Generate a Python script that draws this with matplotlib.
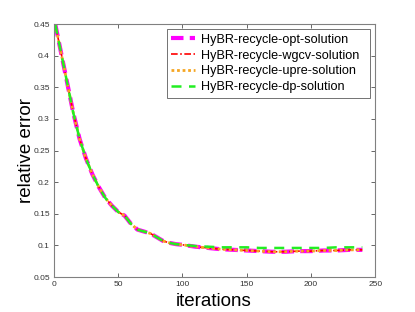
import matplotlib
matplotlib.use("Agg")
import matplotlib.pyplot as plt

plt.rcParams['font.family'] = ['Liberation Sans', 'DejaVu Sans']

iters = [1, 5, 10, 15, 20, 25, 30, 35, 40, 45, 50, 55, 60, 65, 70, 75, 80, 85, 90, 95,
         100, 110, 120, 130, 140, 150, 160, 170, 180, 190, 200, 210, 220, 230, 240]
opt = [0.45, 0.41, 0.36, 0.31, 0.268, 0.237, 0.212, 0.192, 0.175, 0.163, 0.153, 0.147,
       0.134, 0.125, 0.122, 0.119, 0.113, 0.107, 0.104, 0.102, 0.101, 0.098, 0.096,
       0.094, 0.093, 0.092, 0.091, 0.090, 0.090, 0.091, 0.091, 0.092, 0.092, 0.093, 0.093]
wgcv = [0.45, 0.41, 0.36, 0.31, 0.268, 0.237, 0.212, 0.192, 0.175, 0.163, 0.153, 0.147,
        0.134, 0.125, 0.122, 0.119, 0.113, 0.107, 0.104, 0.102, 0.101, 0.098, 0.096,
        0.094, 0.093, 0.092, 0.091, 0.090, 0.090, 0.091, 0.091, 0.092, 0.092, 0.093, 0.093]
upre = [0.45, 0.41, 0.36, 0.31, 0.268, 0.237, 0.212, 0.192, 0.175, 0.163, 0.153, 0.147,
        0.134, 0.125, 0.122, 0.119, 0.113, 0.107, 0.104, 0.102, 0.101, 0.098, 0.096,
        0.094, 0.093, 0.092, 0.091, 0.090, 0.090, 0.091, 0.091, 0.092, 0.092, 0.093, 0.093]
dp = [0.45, 0.41, 0.36, 0.31, 0.268, 0.237, 0.212, 0.192, 0.175, 0.163, 0.153, 0.147,
      0.134, 0.125, 0.122, 0.119, 0.113, 0.107, 0.104, 0.102, 0.101, 0.099, 0.098,
      0.097, 0.097, 0.097, 0.096, 0.096, 0.096, 0.096, 0.096, 0.096, 0.097, 0.097, 0.097]

labels = ['HyBR-recycle-opt-solution', 'HyBR-recycle-wgcv-solution',
          'HyBR-recycle-upre-solution', 'HyBR-recycle-dp-solution']

fig = plt.figure(figsize=(4.15, 3.12), dpi=100)
ax = fig.add_axes([0.130, 0.112, 0.774, 0.811])

ax.plot(iters, opt, color='#ff00ff', linestyle=(0, (3, 1.5)), linewidth=3, label=labels[0])
ax.plot(iters, wgcv, color='#ff0000', linestyle=(0, (4, 1.5, 1, 1.5)), linewidth=1.2, label=labels[1])
ax.plot(iters, upre, color='#f5a623', linestyle=(0, (1, 1)), linewidth=2, label=labels[2])
ax.plot(iters, dp, color='#22ee22', linestyle=(0, (4, 3)), linewidth=1.8, label=labels[3])

ax.set_xlim(0, 250)
ax.set_ylim(0.05, 0.45)
ax.set_xticks([0, 50, 100, 150, 200, 250])
ax.set_yticks([0.05, 0.1, 0.15, 0.2, 0.25, 0.3, 0.35, 0.4, 0.45])
ax.set_yticklabels(['0.05', '0.1', '0.15', '0.2', '0.25', '0.3', '0.35', '0.4', '0.45'])
ax.tick_params(direction='in', top=True, right=True, labelsize=6, colors='#4d4d4d',
               length=3, width=0.6, labelcolor='#333333', pad=3)
for s in ax.spines.values():
    s.set_color('#808080')
    s.set_linewidth(0.8)

xl = ax.set_xlabel('iterations', fontsize=13.5)
yl = ax.set_ylabel('relative error', fontsize=13.5)
ax.xaxis.set_label_coords(0.497, -0.095)
xl.set_va('center')
ax.yaxis.set_label_coords(-0.087, 0.5)
yl.set_va('center')

leg = ax.legend(loc='upper left', bbox_to_anchor=(0.352, 0.979, 0.632, 0.0), mode='expand',
                fontsize=9.1, frameon=True, fancybox=False,
                edgecolor='#333333', handlelength=1.9, handletextpad=0.4,
                borderpad=0.35, labelspacing=0.3, borderaxespad=0.0)
leg.get_frame().set_linewidth(0.6)

fig.savefig('out.png', dpi=100)
